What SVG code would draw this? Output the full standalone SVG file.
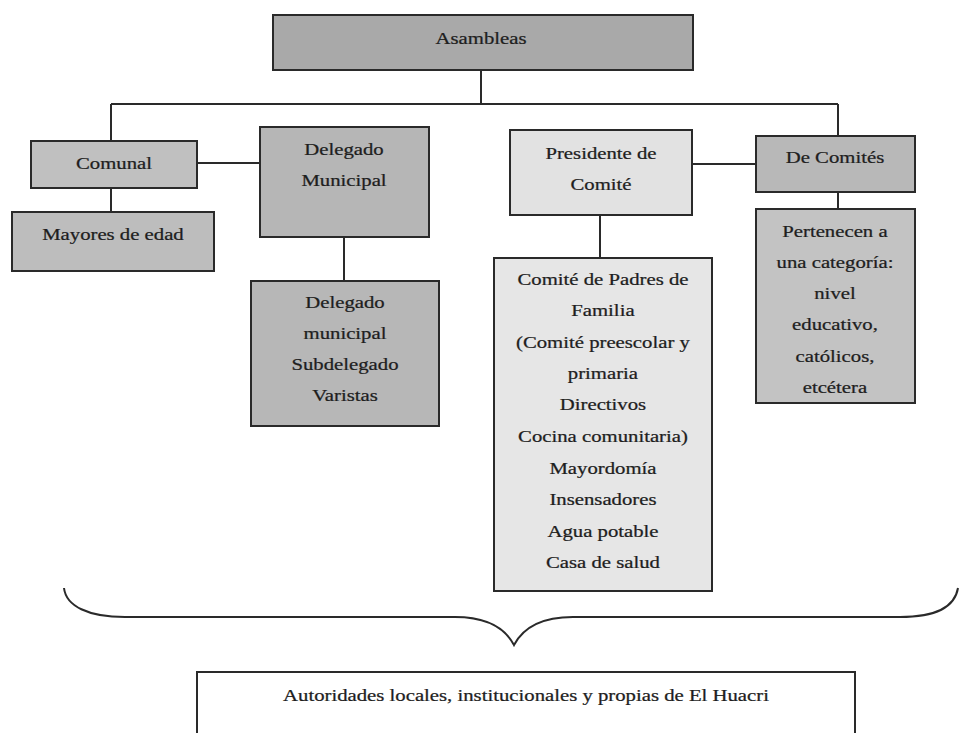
<svg xmlns="http://www.w3.org/2000/svg" width="960" height="733" viewBox="0 0 960 733">
<style>
.box{stroke:#2a2a2a;stroke-width:2}
.ln{stroke:#2a2a2a;stroke-width:2;fill:none}
.t{font-family:"Liberation Serif","Times New Roman",serif;font-size:17px;fill:#1e1e1e;stroke:#1e1e1e;stroke-width:0.25;text-anchor:middle;transform-box:fill-box;transform-origin:center;transform:scaleX(1.22)}
</style>
<rect width="960" height="733" fill="#ffffff"/>
<g id="connectors">
<path class="ln" d="M481,70 V104 M111,104 H838 M111,104 V141 M838,104 V136"/>
<path class="ln" d="M197,163 H260 M111,188 V212 M344,237 V282"/>
<path class="ln" d="M692,164 H756 M838,192 V209 M600,215 V258"/>
<path class="ln" d="M64,588 C66,606 88,617 125,617 L455,617 C488,617 505,628 514,645 C523,628 540,617 573,617 L900,617 C937,617 955,606 958,588"/>
</g>
<g id="asambleas">
<rect class="box" x="273" y="15" width="420" height="55" fill="#a9a9a9"/>
<text class="t" x="481" y="44">Asambleas</text>
</g>
<g id="comunal">
<rect class="box" x="31" y="141" width="166" height="47" fill="#c0c0c0"/>
<text class="t" x="114" y="169">Comunal</text>
</g>
<g id="mayores">
<rect class="box" x="12" y="212" width="202" height="59" fill="#bdbdbd"/>
<text class="t" x="113" y="240">Mayores de edad</text>
</g>
<g id="delegado-municipal">
<rect class="box" x="260" y="127" width="169" height="110" fill="#b6b6b6"/>
<text class="t" x="344" y="155">Delegado</text>
<text class="t" x="344" y="186">Municipal</text>
</g>
<g id="delegado-lista">
<rect class="box" x="251" y="281" width="188" height="145" fill="#b7b7b7"/>
<text class="t" x="345" y="308">Delegado</text>
<text class="t" x="345" y="339">municipal</text>
<text class="t" x="345" y="370">Subdelegado</text>
<text class="t" x="345" y="401">Varistas</text>
</g>
<g id="presidente">
<rect class="box" x="510" y="130" width="182" height="85" fill="#e2e2e2"/>
<text class="t" x="601" y="159">Presidente de</text>
<text class="t" x="601" y="190">Comité</text>
</g>
<g id="comites-lista">
<rect class="box" x="494" y="258" width="218" height="333" fill="#e6e6e6"/>
<text class="t" x="603" y="285">Comité de Padres de</text>
<text class="t" x="603" y="316">Familia</text>
<text class="t" x="603" y="348">(Comité preescolar y</text>
<text class="t" x="603" y="379">primaria</text>
<text class="t" x="603" y="410">Directivos</text>
<text class="t" x="603" y="442">Cocina comunitaria)</text>
<text class="t" x="603" y="474">Mayordomía</text>
<text class="t" x="603" y="505">Insensadores</text>
<text class="t" x="603" y="537">Agua potable</text>
<text class="t" x="603" y="568">Casa de salud</text>
</g>
<g id="de-comites">
<rect class="box" x="756" y="136" width="159" height="56" fill="#b8b8b8"/>
<text class="t" x="835" y="163">De Comités</text>
</g>
<g id="pertenecen">
<rect class="box" x="756" y="209" width="159" height="194" fill="#c3c3c3"/>
<text class="t" x="835" y="237">Pertenecen a</text>
<text class="t" x="835" y="268">una categoría:</text>
<text class="t" x="835" y="299">nivel</text>
<text class="t" x="835" y="330">educativo,</text>
<text class="t" x="835" y="362">católicos,</text>
<text class="t" x="835" y="393">etcétera</text>
</g>
<g id="autoridades">
<path class="ln" d="M197,740 V672 H855 V740"/>
<text class="t" x="526" y="701">Autoridades locales, institucionales y propias de El Huacri</text>
</g>
</svg>
